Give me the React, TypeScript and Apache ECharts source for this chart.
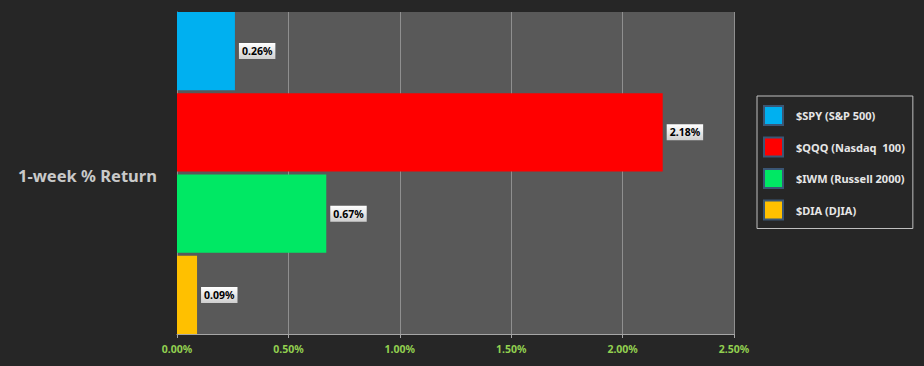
import React, { useEffect, useRef } from "react";
import * as echarts from "echarts";

const seriesNames = ["$SPY (S&P 500)", "$QQQ (Nasdaq  100)", "$IWM (Russell 2000)", "$DIA (DJIA)"];
const seriesValues = [0.26, 2.18, 0.67, 0.09];
const seriesColors = ["#00b0f0", "#ff0000", "#00e864", "#ffc000"];
const categories = ["1-week % Return"];
const axisMax = 2.5;
const axisInterval = 0.5;

export default function App() {
  const ref = useRef<HTMLDivElement>(null);
  useEffect(() => {
    if (!ref.current) return;
    const chart = echarts.init(ref.current, undefined, { renderer: "svg" });
    const labelBg = new echarts.graphic.LinearGradient(0, 0, 0, 1, [
      { offset: 0, color: "#ffffff" },
      { offset: 1, color: "#cfcfcf" },
    ]);
    chart.setOption({
      animation: false,
      backgroundColor: "#262626",
      textStyle: { fontFamily: "Noto Sans" },
      title: {
        text: categories[0],
        left: 13,
        top: 162,
        textStyle: { color: "#c9c9c9", fontSize: 16.5, fontWeight: "bold", fontFamily: "Noto Sans" },
      },
      legend: {
        orient: "vertical",
        left: 757,
        top: 96,
        width: 160,
        padding: [9, 8, 8, 6],
        itemWidth: 19,
        itemHeight: 19,
        itemGap: 10.5,
        borderColor: "#bfbfbf",
        borderWidth: 1,
        textStyle: { color: "#e6e6e6", fontSize: 11, fontWeight: "bold", padding: [0, 0, 0, 8] },
        itemStyle: { borderColor: "#3a5675", borderWidth: 2 },
        data: seriesNames.map((n) => ({ name: n, icon: "rect" })),
      },
      grid: { left: 177, right: 190, top: 12, bottom: 32, containLabel: false, show: true, backgroundColor: "#595959", borderWidth: 0 },
      xAxis: {
        type: "value",
        min: 0,
        max: axisMax,
        interval: axisInterval,
        axisLine: { show: true, lineStyle: { color: "#a6a6a6", width: 1 } },
        axisTick: { show: true, length: 4, lineStyle: { color: "#a6a6a6" } },
        splitLine: { show: true, lineStyle: { color: "#8f8f8f", width: 1 } },
        axisLabel: {
          color: "#92d050",
          fontSize: 10.5,
          fontWeight: "bold",
          margin: 9,
          formatter: (v: number) => v.toFixed(2) + "%",
        },
      },
      yAxis: {
        type: "category",
        data: categories,
        inverse: true,
        axisLine: { show: true, lineStyle: { color: "#8f8f8f" } },
        axisTick: { show: false },
        axisLabel: { show: false },
      },
      series: seriesNames.map((name, i) => ({
        type: "bar",
        name,
        data: [seriesValues[i]],
        barGap: "4%",
        barCategoryGap: "0%",
        itemStyle: { color: seriesColors[i] },
        label: {
          show: true,
          position: "right",
          distance: 4,
          formatter: (p: any) => p.value.toFixed(2) + "%",
          color: "#000000",
          fontSize: 10.5,
          fontWeight: "bold",
          backgroundColor: labelBg,
          padding: [3, 3, 2, 3],
        },
      })),
    });
    return () => chart.dispose();
  }, []);
  return <div ref={ref} style={{ width: 924, height: 366, position: "absolute", left: 0, top: 0 }} />;
}
